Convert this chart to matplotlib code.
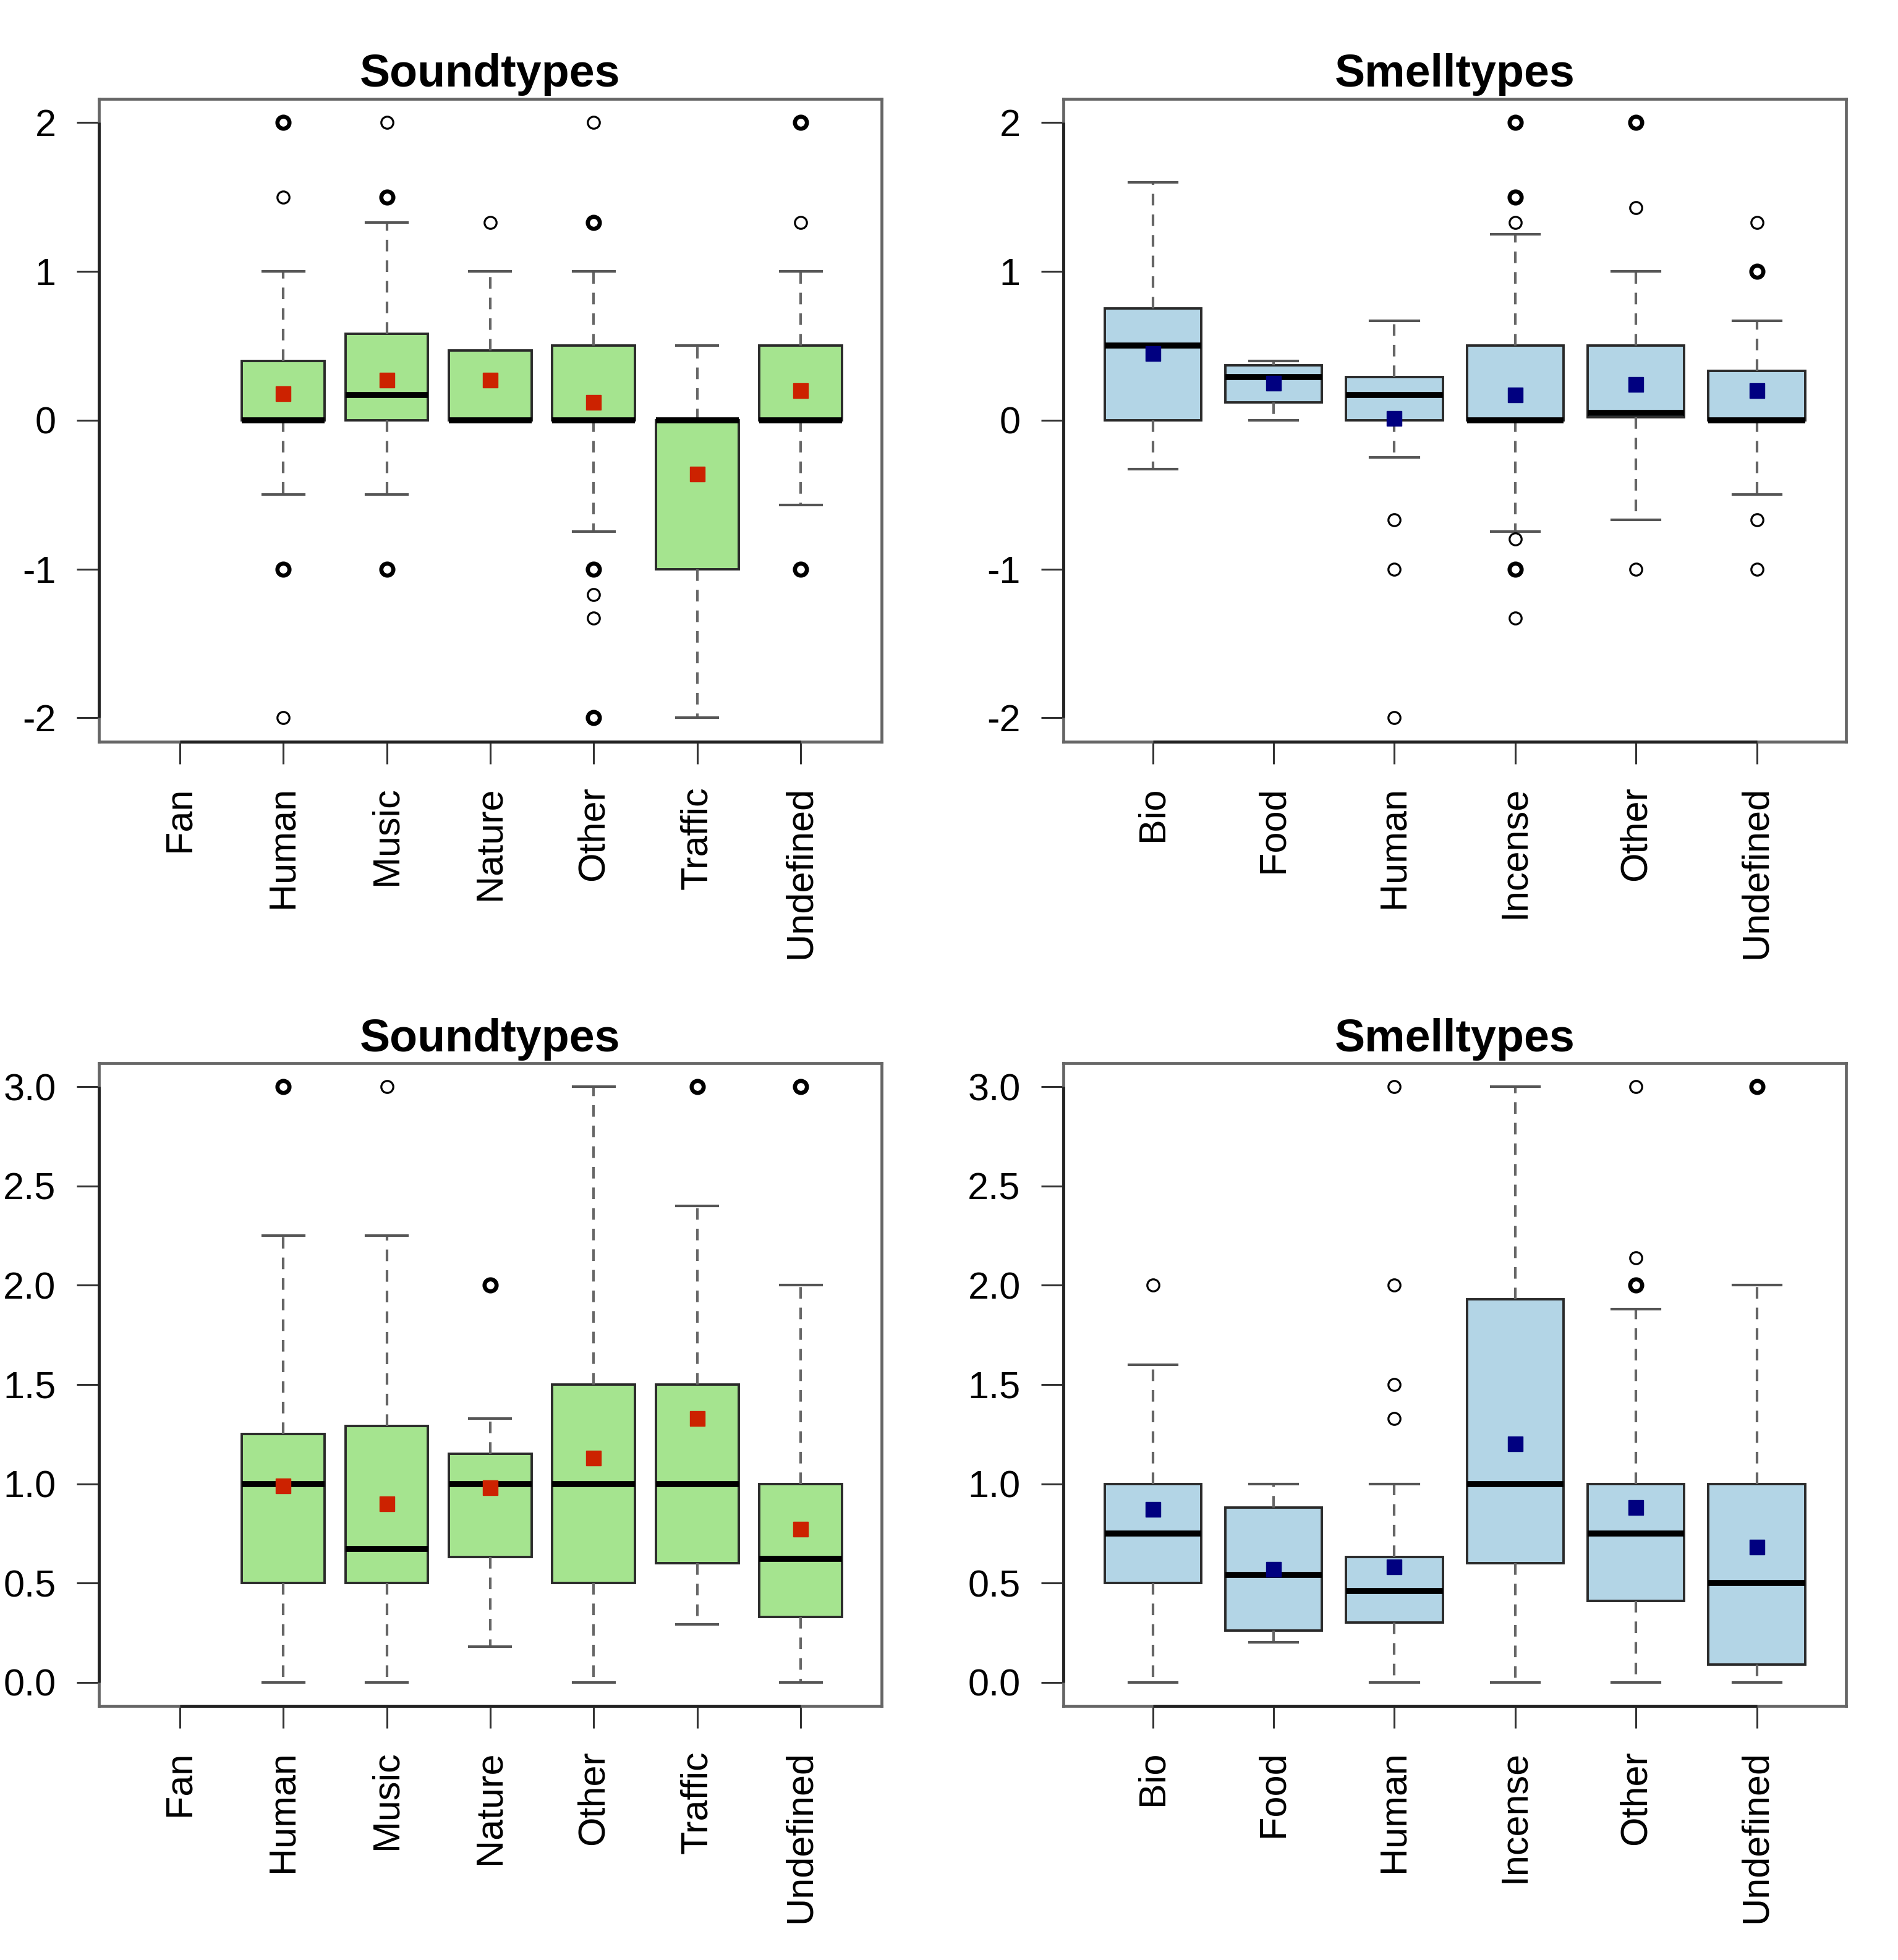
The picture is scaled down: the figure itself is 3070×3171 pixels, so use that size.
import matplotlib
matplotlib.use('Agg')
import matplotlib.pyplot as plt
import matplotlib.transforms as mtransforms

plt.rcParams['font.family'] = ['Liberation Sans', 'DejaVu Sans']
plt.rcParams['axes.unicode_minus'] = False

sound_labels = ['Fan', 'Human', 'Music', 'Nature', 'Other', 'Traffic', 'Undefined']
smell_labels = ['Bio', 'Food', 'Human', 'Incense', 'Other', 'Undefined']

# top row (-2 .. 2)
sound1_low = [None, -0.5, -0.5, 0.0, -0.75, -2.0, -0.57]
sound1_q1 = [None, 0.0, 0.0, 0.0, 0.0, -1.0, 0.0]
sound1_med = [None, 0.0, 0.17, 0.0, 0.0, 0.0, 0.0]
sound1_q3 = [None, 0.4, 0.58, 0.47, 0.5, 0.0, 0.5]
sound1_high = [None, 1.0, 1.33, 1.0, 1.0, 0.5, 1.0]
sound1_mean = [None, 0.18, 0.27, 0.27, 0.12, -0.36, 0.2]
sound1_fliers = [[], [1.5, -2], [2], [1.33], [2, -1.17, -1.33], [], [1.33]]
sound1_bold = [[], [2, -1], [1.5, -1], [], [1.33, -1, -2], [], [2, -1]]

smell1_low = [-0.33, 0.0, -0.25, -0.75, -0.67, -0.5]
smell1_q1 = [0.0, 0.12, 0.0, 0.0, 0.02, 0.0]
smell1_med = [0.5, 0.29, 0.17, 0.0, 0.05, 0.0]
smell1_q3 = [0.75, 0.37, 0.29, 0.5, 0.5, 0.33]
smell1_high = [1.6, 0.4, 0.67, 1.25, 1.0, 0.67]
smell1_mean = [0.45, 0.25, 0.01, 0.17, 0.24, 0.2]
smell1_fliers = [[], [], [-0.67, -1, -2], [1.33, -0.8, -1.33], [1.43, -1], [1.33, -0.67, -1]]
smell1_bold = [[], [], [], [2, 1.5, -1], [2], [1]]

# bottom row (0 .. 3)
sound2_low = [None, 0.0, 0.0, 0.18, 0.0, 0.29, 0.0]
sound2_q1 = [None, 0.5, 0.5, 0.63, 0.5, 0.6, 0.33]
sound2_med = [None, 1.0, 0.67, 1.0, 1.0, 1.0, 0.62]
sound2_q3 = [None, 1.25, 1.29, 1.15, 1.5, 1.5, 1.0]
sound2_high = [None, 2.25, 2.25, 1.33, 3.0, 2.4, 2.0]
sound2_mean = [None, 0.99, 0.9, 0.98, 1.13, 1.33, 0.77]
sound2_fliers = [[], [], [3], [], [], [], []]
sound2_bold = [[], [3], [], [2], [], [3], [3]]

smell2_low = [0.0, 0.2, 0.0, 0.0, 0.0, 0.0]
smell2_q1 = [0.5, 0.26, 0.3, 0.6, 0.41, 0.09]
smell2_med = [0.75, 0.54, 0.46, 1.0, 0.75, 0.5]
smell2_q3 = [1.0, 0.88, 0.63, 1.93, 1.0, 1.0]
smell2_high = [1.6, 1.0, 1.0, 3.0, 1.88, 2.0]
smell2_mean = [0.87, 0.57, 0.58, 1.2, 0.88, 0.68]
smell2_fliers = [[2], [], [3, 2, 1.5, 1.33], [], [3, 2.14], []]
smell2_bold = [[], [], [], [], [2], [3]]

top_ticks = [-2, -1, 0, 1, 2]
top_ticklabels = ['-2', '-1', '0', '1', '2']
bottom_ticks = [0.0, 0.5, 1.0, 1.5, 2.0, 2.5, 3.0]
bottom_ticklabels = ['0.0', '0.5', '1.0', '1.5', '2.0', '2.5', '3.0']

green = '#a5e48f'
blue = '#b3d5e6'
red_mean = '#cc2200'
blue_mean = '#000080'
frame_color = '#666666'
tick_size = 44


def draw_panel(ax, title, labels, low, q1, med, q3, high, mean, fliers, bold,
               fill, mean_color, yticks, yticklabels, ylim):
    stats = []
    pos = []
    for i in range(len(labels)):
        if med[i] is None:
            continue
        stats.append({'whislo': low[i], 'q1': q1[i], 'med': med[i],
                      'q3': q3[i], 'whishi': high[i], 'fliers': fliers[i]})
        pos.append(i + 1)

    ax.bxp(stats, positions=pos, widths=0.8, capwidths=0.4,
           patch_artist=True, showfliers=True,
           boxprops=dict(facecolor=fill, edgecolor='#2a2a2a', linewidth=2.8),
           medianprops=dict(color='black', linewidth=7, solid_capstyle='butt'),
           whiskerprops=dict(color='#666666', linewidth=3.0, linestyle=(0, (4.5, 3.5))),
           capprops=dict(color='#555555', linewidth=3.0),
           flierprops=dict(marker='o', markersize=14, markerfacecolor='none',
                           markeredgecolor='black', markeredgewidth=2.3))

    for i in range(len(labels)):
        if bold[i]:
            ax.plot([i + 1] * len(bold[i]), bold[i], 'o', markersize=14,
                    markerfacecolor='none', markeredgecolor='black',
                    markeredgewidth=4.8, zorder=4)
    mx = [i + 1 for i in range(len(labels)) if mean[i] is not None]
    my = [m for m in mean if m is not None]
    ax.plot(mx, my, 's', color=mean_color, markersize=17, zorder=5)

    n = len(labels)
    ax.set_xlim(0.5 - 0.04 * n, n + 0.5 + 0.04 * n)
    ax.set_ylim(ylim)
    ax.set_xticks(range(1, n + 1))
    ax.set_xticklabels(labels, rotation=90, fontsize=tick_size, va='top')
    ax.set_yticks(yticks)
    ax.set_yticklabels(yticklabels, fontsize=tick_size)
    ax.tick_params(axis='both', length=26, width=2.2, color='#333333')
    ax.tick_params(axis='x', pad=26)
    ax.tick_params(axis='y', pad=24)
    for s in ax.spines.values():
        s.set_color(frame_color)
        s.set_linewidth(3.4)

    # R style axis lines from first to last tick
    tb = mtransforms.blended_transform_factory(ax.transData, ax.transAxes)
    ax.plot([1, n], [0, 0], color='#222222', linewidth=3.4, transform=tb,
            clip_on=False, zorder=6, solid_capstyle='butt')
    tl = mtransforms.blended_transform_factory(ax.transAxes, ax.transData)
    ax.plot([0, 0], [yticks[0], yticks[-1]], color='#222222', linewidth=3.4,
            transform=tl, clip_on=False, zorder=6, solid_capstyle='butt')

    ax.set_title(title, fontsize=53, fontweight='bold', pad=14)


fig = plt.figure(figsize=(30.70, 31.71), dpi=100)
ax1 = fig.add_axes([0.0521, 0.6216, 0.4124, 0.328])
ax2 = fig.add_axes([0.5603, 0.6216, 0.4124, 0.328])
ax3 = fig.add_axes([0.0521, 0.1296, 0.4124, 0.328])
ax4 = fig.add_axes([0.5603, 0.1296, 0.4124, 0.328])

draw_panel(ax1, 'Soundtypes', sound_labels, sound1_low, sound1_q1, sound1_med,
           sound1_q3, sound1_high, sound1_mean, sound1_fliers, sound1_bold,
           green, red_mean, top_ticks, top_ticklabels, (-2.16, 2.16))
draw_panel(ax2, 'Smelltypes', smell_labels, smell1_low, smell1_q1, smell1_med,
           smell1_q3, smell1_high, smell1_mean, smell1_fliers, smell1_bold,
           blue, blue_mean, top_ticks, top_ticklabels, (-2.16, 2.16))
draw_panel(ax3, 'Soundtypes', sound_labels, sound2_low, sound2_q1, sound2_med,
           sound2_q3, sound2_high, sound2_mean, sound2_fliers, sound2_bold,
           green, red_mean, bottom_ticks, bottom_ticklabels, (-0.12, 3.12))
draw_panel(ax4, 'Smelltypes', smell_labels, smell2_low, smell2_q1, smell2_med,
           smell2_q3, smell2_high, smell2_mean, smell2_fliers, smell2_bold,
           blue, blue_mean, bottom_ticks, bottom_ticklabels, (-0.12, 3.12))

fig.savefig('out.png', dpi=100, facecolor='white')
